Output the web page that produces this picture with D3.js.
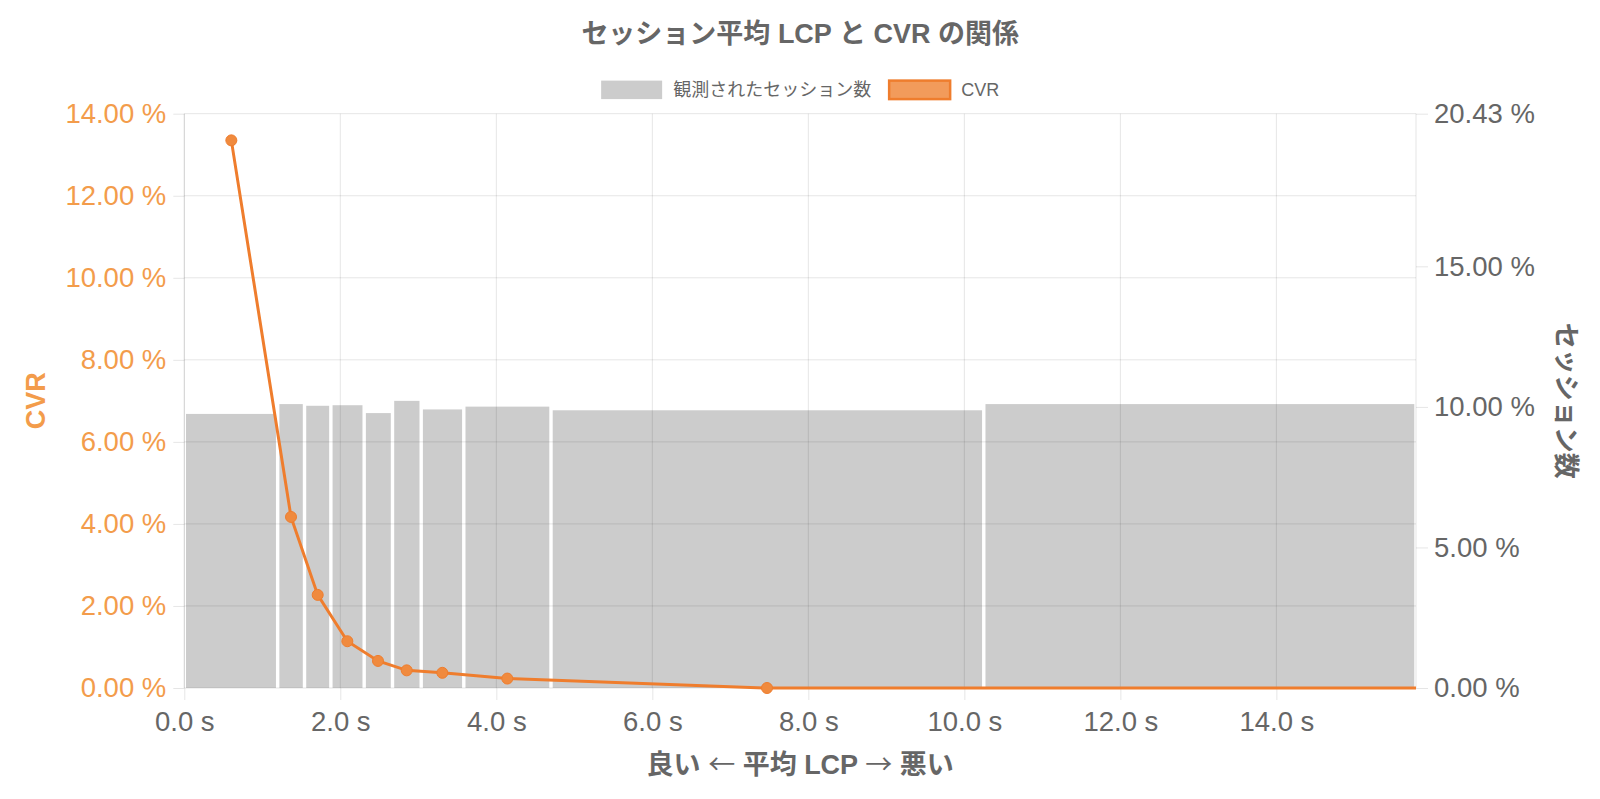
<!DOCTYPE html>
<html>
<head>
<meta charset="UTF-8" />
<title>セッション平均 LCP と CVR の関係</title>
<style>
  body { margin: 0; background: #fff; }
  svg { display: block; font-family: "Liberation Sans", Arial, "Noto Sans CJK JP", sans-serif; }
</style>
</head>
<body>
<svg></svg>
<script src="https://d3js.org/d3.v7.min.js"></script>
<script>
  // LCP bins (seconds): one bar per bin, height = share of sessions
  var binEdges = [0, 1.197, 1.541, 1.879, 2.306, 2.669, 3.037, 3.583, 4.701, 10.249, 15.79];
  var sessionShare = [9.75, 10.10, 10.04, 10.06, 9.78, 10.215, 9.91, 10.01, 9.88, 10.10];
  // CVR of each bin, placed at the bin's average LCP (last one is past the axis end)
  var avgLcp = [0.603, 1.368, 1.710, 2.090, 2.483, 2.851, 3.308, 4.141, 7.47, 21.5];
  var cvr = [13.35, 4.17, 2.27, 1.14, 0.66, 0.43, 0.37, 0.23, 0.0, 0.0];

  var xTicks = [0, 2, 4, 6, 8, 10, 12, 14];
  var cvrTicks = [0, 2, 4, 6, 8, 10, 12, 14];
  var shareTicks = [0, 5, 10, 15, 20.43];
  var legendLabels = ["観測されたセッション数", "CVR"];

  var width = 1600, height = 799;
  // note: "top" is taken by window.top, so plot edges get their own names
  var pLeft = 184.3, pRight = 1416, pTop = 113.7, pBottom = 688;
  var grey = "#666", gridCol = "rgba(0,0,0,0.1)";
  var orange = "#ef7d2d", orangeText = "#f39c4b";

  var svg = d3.select("svg").attr("width", width).attr("height", height);

  var x = d3.scaleLinear().domain([0, binEdges[binEdges.length - 1]]).range([pLeft, pRight]);
  var yL = d3.scaleLinear().domain([0, 14]).range([pBottom, pTop]);
  var yR = d3.scaleLinear().domain([0, 20.43]).range([pBottom, pTop]);

  // title
  svg.append("text")
    .attr("x", (pLeft + pRight) / 2).attr("y", 43)
    .attr("text-anchor", "middle")
    .attr("font-size", 27).attr("font-weight", "bold").attr("fill", grey)
    .text("セッション平均 LCP と CVR の関係");

  // grid
  var grid = svg.append("g");
  grid.selectAll(".h").data(cvrTicks).enter().append("line")
    .attr("x1", pLeft).attr("x2", pRight)
    .attr("y1", d => yL(d)).attr("y2", d => yL(d))
    .attr("stroke", gridCol);
  grid.selectAll(".v").data(xTicks).enter().append("line")
    .attr("x1", d => x(d)).attr("x2", d => x(d))
    .attr("y1", pTop).attr("y2", pBottom)
    .attr("stroke", gridCol);
  grid.append("line").attr("x1", pRight).attr("x2", pRight).attr("y1", pTop).attr("y2", pBottom).attr("stroke", gridCol);

  // bars
  var bins = sessionShare.map((v, i) => ({ lo: binEdges[i], hi: binEdges[i + 1], v: v }));
  svg.append("g").selectAll("rect").data(bins).enter().append("rect")
    .attr("x", d => x(d.lo) + 1.7)
    .attr("width", d => x(d.hi) - x(d.lo) - 3.4)
    .attr("y", d => yR(d.v))
    .attr("height", d => pBottom - yR(d.v))
    .attr("fill", "rgba(0,0,0,0.2)");

  // axes
  function styleAxis(g, col) {
    g.select(".domain").remove();
    g.selectAll("line").attr("stroke", gridCol);
    g.selectAll("text").attr("fill", col).attr("font-size", 27.5)
      .attr("font-family", "\"Liberation Sans\", Arial, sans-serif");
  }
  svg.append("g").attr("transform", "translate(0," + pBottom + ")")
    .call(d3.axisBottom(x).tickValues(xTicks).tickSize(12).tickPadding(11)
      .tickFormat(d => d.toFixed(1) + " s"))
    .call(g => styleAxis(g, grey));
  svg.append("g").attr("transform", "translate(" + pLeft + ",0)")
    .call(d3.axisLeft(yL).tickValues(cvrTicks).tickSize(11).tickPadding(7)
      .tickFormat(d => d.toFixed(2) + " %"))
    .call(g => styleAxis(g, orangeText));
  svg.append("g").attr("transform", "translate(" + pRight + ",0)")
    .call(d3.axisRight(yR).tickValues(shareTicks).tickSize(12).tickPadding(6)
      .tickFormat(d => d.toFixed(2) + " %"))
    .call(g => styleAxis(g, grey));
  svg.append("line").attr("x1", pLeft).attr("x2", pLeft).attr("y1", pTop).attr("y2", pBottom).attr("stroke", gridCol);

  // axis titles (arrows taken from the CJK font so they are wide like the original)
  var xTitle = svg.append("text")
    .attr("x", (pLeft + pRight) / 2).attr("y", 774)
    .attr("text-anchor", "middle")
    .attr("font-size", 27).attr("font-weight", "bold").attr("fill", grey);
  [["良い ", null], ["←", "cjk"], [" 平均 LCP ", null], ["→", "cjk"], [" 悪い", null]].forEach(function (p) {
    var ts = xTitle.append("tspan").text(p[0]);
    if (p[1]) ts.attr("font-family", "\"Noto Sans CJK JP\", sans-serif").attr("font-weight", "normal");
  });
  svg.append("text")
    .attr("transform", "translate(45," + (pTop + pBottom) / 2 + ") rotate(-90)")
    .attr("text-anchor", "middle")
    .attr("font-size", 27).attr("font-weight", "bold").attr("fill", orangeText)
    .text("CVR");
  svg.append("text")
    .attr("transform", "translate(1557," + (pTop + pBottom) / 2 + ") rotate(90)")
    .attr("text-anchor", "middle")
    .attr("font-size", 26).attr("font-weight", "bold").attr("fill", grey)
    .text("セッション数");

  // CVR line
  svg.append("clipPath").attr("id", "plotclip")
    .append("rect").attr("x", pLeft).attr("y", 0).attr("width", pRight - pLeft).attr("height", height);
  var pts = avgLcp.map((d, i) => ({ t: d, c: cvr[i] }));
  var lineG = svg.append("g").attr("clip-path", "url(#plotclip)");
  lineG.append("path")
    .datum(pts)
    .attr("d", d3.line().x(d => x(d.t)).y(d => yL(d.c)))
    .attr("fill", "none").attr("stroke", orange).attr("stroke-width", 3);
  lineG.selectAll("circle").data(pts).enter().append("circle")
    .attr("cx", d => x(d.t)).attr("cy", d => yL(d.c)).attr("r", 5.5)
    .attr("fill", "#f08a3e").attr("stroke", orange).attr("stroke-width", 1);

  // legend
  var legend = svg.append("g");
  var legendStyles = [
    { fill: "rgba(0,0,0,0.2)", stroke: "none" },
    { fill: "#f29b5b", stroke: orange }
  ];
  var items = legend.selectAll("g").data(legendLabels).enter().append("g");
  items.append("rect")
    .attr("width", 61).attr("height", 18.5)
    .attr("fill", (d, i) => legendStyles[i].fill)
    .attr("stroke", (d, i) => legendStyles[i].stroke).attr("stroke-width", 2.5);
  items.append("text")
    .attr("x", 72).attr("y", 9.3).attr("dy", "0.35em")
    .attr("font-size", 18).attr("fill", grey)
    .text(d => d);
  var offs = 0, widths = [];
  items.each(function () { widths.push(this.getBBox().width); });
  var total = d3.sum(widths) + 18 * (widths.length - 1);
  offs = (pLeft + pRight) / 2 - total / 2;
  items.attr("transform", function (d, i) {
    var t = "translate(" + offs + ",80.6)";
    offs += widths[i] + 18;
    return t;
  });
</script>
</body>
</html>
